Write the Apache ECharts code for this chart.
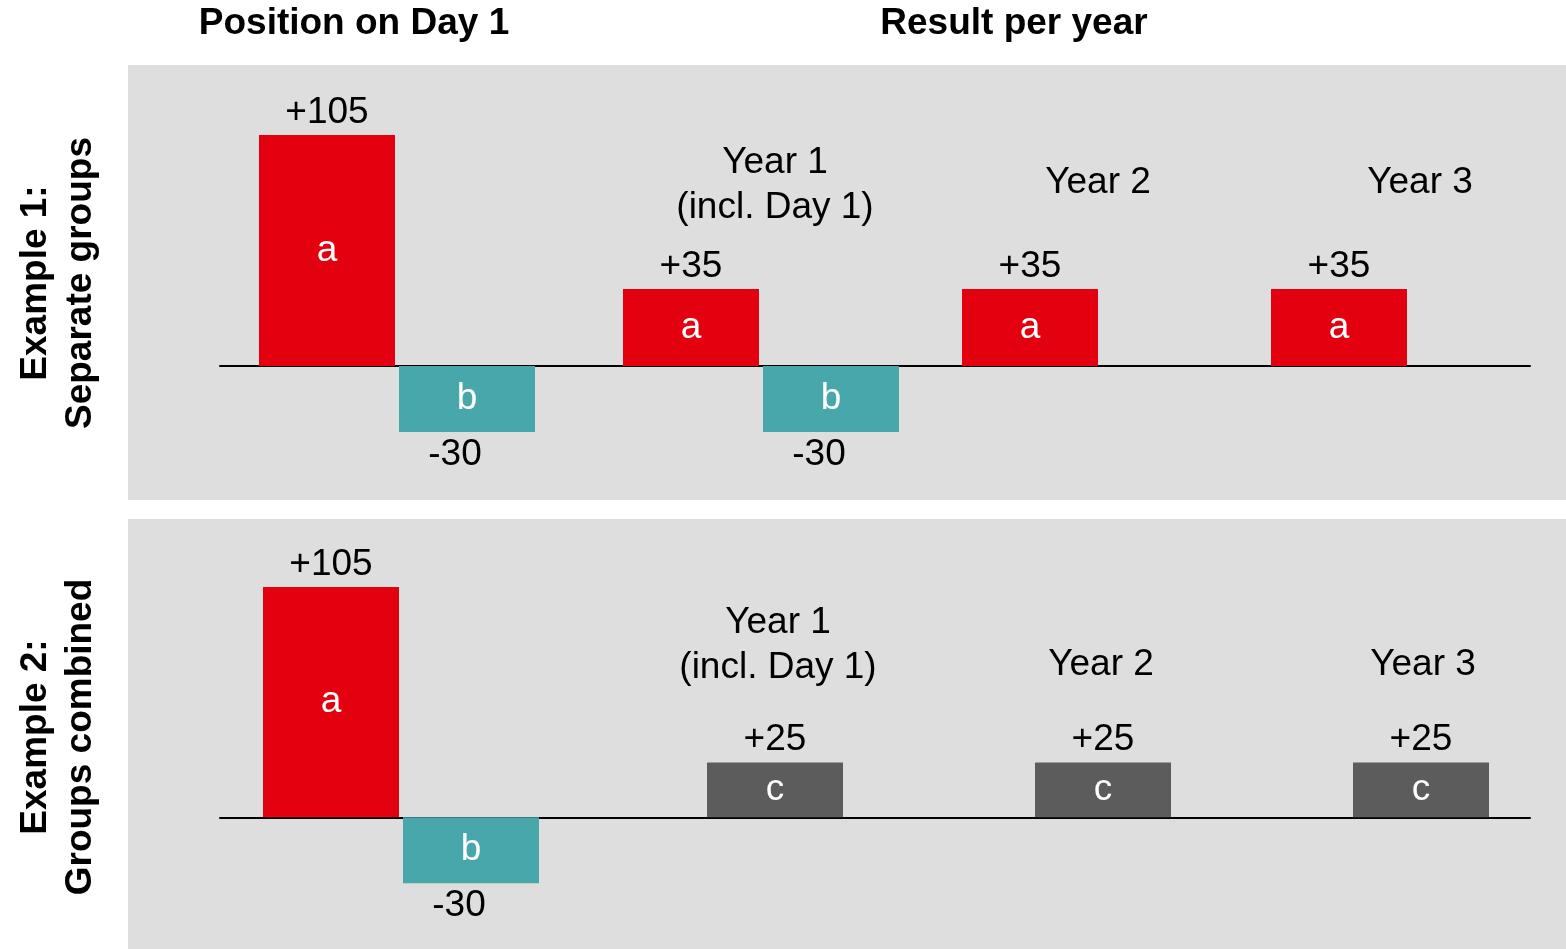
<!DOCTYPE html>
<html>
<head>
<meta charset="utf-8">
<script src="https://cdn.jsdelivr.net/npm/echarts@6/dist/echarts.min.js"></script>
<style>
html, body { margin: 0; padding: 0; background: #fff; }
#chart { width: 1566px; height: 949px; }
</style>
</head>
<body>
<div id="chart"></div>
<script>
// chart values
const day1Cats = ['a', 'b'];
const ex1Day1 = [105, -30];
const ex1Year1Cats = ['a', 'b'];
const ex1Year1 = [35, -30];
const ex1Year2 = [35];
const ex1Year3 = [35];
const ex2Day1 = [105, -30];
const ex2YearCats = ['c'];
const ex2Years = [25, 25, 25];
const yearLabels = ['Year 1\n(incl. Day 1)', 'Year 2', 'Year 3'];
const headers = ['Position on Day 1', 'Result per year'];
const rowLabels = ['Example 1:\nSeparate groups', 'Example 2:\nGroups combined'];

const colors = { a: '#e3000f', b: '#48a7aa', c: '#5c5c5c' };
const FONT = '"Liberation Sans", Arial, sans-serif';
const yMin = -60, yMax = 120, k = 2.2;

const grids = [], xAxes = [], yAxes = [], series = [];

function baseGrid(baseline) {
  const gi = grids.length;
  grids.push({ left: 220, width: 1310, top: baseline - yMax * k, height: (yMax - yMin) * k });
  xAxes.push({ gridIndex: gi, type: 'value', min: 0, max: 1,
    axisLine: { show: true, onZero: true, lineStyle: { color: '#000', width: 2 } },
    axisTick: { show: false }, axisLabel: { show: false }, splitLine: { show: false } });
  yAxes.push({ gridIndex: gi, type: 'value', min: yMin, max: yMax, show: false, splitLine: { show: false } });
}

function group(baseline, left, cats, values) {
  const gi = grids.length;
  grids.push({ left: left, width: 140 * cats.length, top: baseline - yMax * k, height: (yMax - yMin) * k });
  xAxes.push({ gridIndex: gi, type: 'category', data: cats, show: false });
  yAxes.push({ gridIndex: gi, type: 'value', min: yMin, max: yMax, show: false, splitLine: { show: false } });
  series.push({
    type: 'bar', xAxisIndex: gi, yAxisIndex: gi, barWidth: 136, z: 3,
    data: values.map((v, i) => ({ value: v, itemStyle: { color: colors[cats[i]] } })),
    label: { show: true, position: 'inside', formatter: p => p.name, color: '#fff', fontSize: 37, fontFamily: FONT }
  });
  series.push({
    type: 'bar', xAxisIndex: gi, yAxisIndex: gi, barWidth: 136, barGap: '-100%', z: 2,
    itemStyle: { color: 'rgba(0,0,0,0)' }, silent: true,
    data: values.map(v => ({ value: v, label: v >= 0 ? { position: 'top' } : { position: 'bottom', offset: [-12, 0] } })),
    label: { show: true, distance: 4, formatter: p => (p.value > 0 ? '+' : '') + p.value,
      color: '#000', fontSize: 37, fontFamily: FONT }
  });
}

// Example 1
const b1 = 366;
baseGrid(b1);
group(b1, 257, day1Cats, ex1Day1);
group(b1, 621, ex1Year1Cats, ex1Year1);
group(b1, 960, ['a'], ex1Year2);
group(b1, 1269, ['a'], ex1Year3);

// Example 2
const b2 = 818;
baseGrid(b2);
group(b2, 261, day1Cats, ex2Day1);
[705, 1033, 1351].forEach((l, i) => group(b2, l, ex2YearCats, [ex2Years[i]]));

function text(x, y, s, opts) {
  return Object.assign({ type: 'text', x: x, y: y, z: 10,
    style: Object.assign({ text: s, fill: '#000', font: '37px ' + FONT, align: 'center', verticalAlign: 'middle', lineHeight: 45 }, opts || {}) });
}

const graphic = [
  { type: 'rect', shape: { x: 128, y: 65, width: 1438, height: 435 }, style: { fill: '#dedede' }, z: -10 },
  { type: 'rect', shape: { x: 128, y: 519, width: 1438, height: 430 }, style: { fill: '#dedede' }, z: -10 },
  text(354, 24, headers[0], { font: 'bold 37px ' + FONT }),
  text(1014, 24, headers[1], { font: 'bold 37px ' + FONT }),
  Object.assign(text(58, 283, rowLabels[0], { font: 'bold 37px ' + FONT }), { rotation: Math.PI / 2 }),
  Object.assign(text(58, 737, rowLabels[1], { font: 'bold 37px ' + FONT }), { rotation: Math.PI / 2 }),
  text(775, 185, yearLabels[0]),
  text(1098, 183, yearLabels[1]),
  text(1420, 183, yearLabels[2]),
  text(778, 645, yearLabels[0]),
  text(1101, 665, yearLabels[1]),
  text(1423, 665, yearLabels[2])
];

const chart = echarts.init(document.getElementById('chart'), null, { renderer: 'canvas' });
chart.setOption({
  animation: false,
  backgroundColor: '#fff',
  grid: grids,
  xAxis: xAxes,
  yAxis: yAxes,
  series: series,
  graphic: graphic
});
</script>
</body>
</html>
